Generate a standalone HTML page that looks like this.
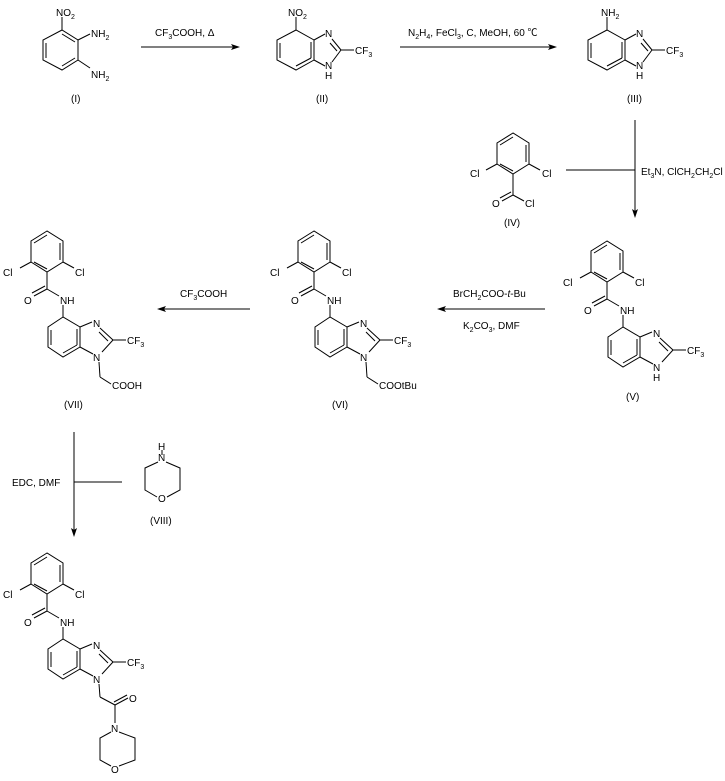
<!DOCTYPE html>
<html><head><meta charset="utf-8"><style>
html,body{margin:0;padding:0;background:#fff;}
svg{display:block;}
text{font-family:"Liberation Sans","Noto Sans CJK SC",sans-serif;font-size:10px;fill:#000;}
.s{font-size:7px;}
</style></head><body>
<svg width="725" height="781" viewBox="0 0 725 781" xmlns="http://www.w3.org/2000/svg">
<g stroke="#000" stroke-width="1" fill="none">
<!-- Compound I -->
<polygon points="62,30 43,40 43,60 62,70 78,60 78,40"/>
<line x1="46" y1="43" x2="46" y2="58"/><line x1="62" y1="34" x2="75" y2="42"/><line x1="62" y1="66" x2="75" y2="58"/>
<line x1="62" y1="30" x2="62" y2="17"/><line x1="78" y1="40" x2="90" y2="34"/><line x1="78" y1="60" x2="90" y2="68"/>
<!-- arrow 1 -->
<line x1="141" y1="47" x2="236" y2="47"/>
<!-- Compound II -->
<polygon points="296,30 277,40 277,60 296,70 314,60 314,40"/>
<line x1="280" y1="43" x2="280" y2="58"/><line x1="296" y1="66" x2="311" y2="58"/><line x1="311" y1="42" x2="311" y2="58"/>
<line x1="296" y1="30" x2="296" y2="17"/>
<line x1="314" y1="40" x2="325" y2="34"/><line x1="332" y1="39" x2="341" y2="50"/><line x1="330" y1="43" x2="337" y2="51"/>
<line x1="341" y1="50" x2="332" y2="62"/><line x1="314" y1="60" x2="325" y2="66"/><line x1="341" y1="50" x2="354" y2="50"/>
<!-- arrow 2 -->
<line x1="400" y1="47" x2="553" y2="47"/>
<!-- Compound III -->
<polygon points="607,30 588,40 588,60 607,70 625,60 625,40"/>
<line x1="591" y1="43" x2="591" y2="58"/><line x1="607" y1="66" x2="622" y2="58"/><line x1="622" y1="42" x2="622" y2="58"/>
<line x1="607" y1="30" x2="607" y2="17"/>
<line x1="625" y1="40" x2="636" y2="34"/><line x1="643" y1="39" x2="652" y2="50"/><line x1="641" y1="43" x2="648" y2="51"/>
<line x1="652" y1="50" x2="643" y2="62"/><line x1="625" y1="60" x2="636" y2="66"/><line x1="652" y1="50" x2="665" y2="50"/>
<!-- arrow III->V -->
<line x1="635" y1="120" x2="635" y2="214"/><line x1="566" y1="170" x2="635" y2="170"/>
<!-- Compound IV -->
<g transform="translate(466,-98)">
<polygon points="47,231 31,241 31,262 47,272 63,262 63,241"/>
<line x1="34" y1="243" x2="47" y2="235"/><line x1="60" y1="243" x2="60" y2="260"/><line x1="34" y1="262" x2="47" y2="269"/>
<line x1="31" y1="262" x2="20" y2="268"/><line x1="63" y1="262" x2="74" y2="268"/>
<line x1="47" y1="272" x2="47" y2="293"/><line x1="47" y1="293" x2="36" y2="299"/><line x1="45" y1="290" x2="34" y2="296"/>
<line x1="47" y1="293" x2="58" y2="299"/>
</g>
<!-- arrows row 2 -->
<line x1="441" y1="309" x2="545" y2="309"/>
<line x1="161" y1="309" x2="250" y2="309"/>
<!-- cores: VII, VI, V, final -->
<g id="c1">
<polygon points="47,231 31,241 31,262 47,272 63,262 63,241"/>
<line x1="34" y1="243" x2="47" y2="235"/><line x1="60" y1="243" x2="60" y2="260"/><line x1="34" y1="262" x2="47" y2="269"/>
<line x1="31" y1="262" x2="20" y2="268"/><line x1="63" y1="262" x2="74" y2="268"/>
<line x1="47" y1="272" x2="47" y2="289"/><line x1="47" y1="289" x2="34" y2="296"/><line x1="45" y1="286" x2="32" y2="293"/>
<line x1="47" y1="289" x2="59" y2="296"/><line x1="63" y1="305" x2="63" y2="317"/>
<polygon points="63,317 48,327 48,347 63,357 80,347 80,327"/>
<line x1="51" y1="330" x2="51" y2="345"/><line x1="63" y1="353" x2="77" y2="345"/><line x1="77" y1="329" x2="77" y2="345"/>
<line x1="80" y1="327" x2="92" y2="322"/><line x1="100" y1="328" x2="113" y2="340"/><line x1="99" y1="332" x2="108" y2="341"/>
<line x1="113" y1="340" x2="102" y2="352"/><line x1="80" y1="347" x2="93" y2="354"/><line x1="113" y1="340" x2="126" y2="340"/>
<line x1="99" y1="362" x2="100" y2="377"/><line x1="100" y1="377" x2="111" y2="384"/>
</g>
<g transform="translate(267,0)">
<polygon points="47,231 31,241 31,262 47,272 63,262 63,241"/>
<line x1="34" y1="243" x2="47" y2="235"/><line x1="60" y1="243" x2="60" y2="260"/><line x1="34" y1="262" x2="47" y2="269"/>
<line x1="31" y1="262" x2="20" y2="268"/><line x1="63" y1="262" x2="74" y2="268"/>
<line x1="47" y1="272" x2="47" y2="289"/><line x1="47" y1="289" x2="34" y2="296"/><line x1="45" y1="286" x2="32" y2="293"/>
<line x1="47" y1="289" x2="59" y2="296"/><line x1="63" y1="305" x2="63" y2="317"/>
<polygon points="63,317 48,327 48,347 63,357 80,347 80,327"/>
<line x1="51" y1="330" x2="51" y2="345"/><line x1="63" y1="353" x2="77" y2="345"/><line x1="77" y1="329" x2="77" y2="345"/>
<line x1="80" y1="327" x2="92" y2="322"/><line x1="100" y1="328" x2="113" y2="340"/><line x1="99" y1="332" x2="108" y2="341"/>
<line x1="113" y1="340" x2="102" y2="352"/><line x1="80" y1="347" x2="93" y2="354"/><line x1="113" y1="340" x2="126" y2="340"/>
<line x1="99" y1="362" x2="100" y2="377"/><line x1="100" y1="377" x2="111" y2="384"/>
</g>
<g transform="translate(560,10)">
<polygon points="47,231 31,241 31,262 47,272 63,262 63,241"/>
<line x1="34" y1="243" x2="47" y2="235"/><line x1="60" y1="243" x2="60" y2="260"/><line x1="34" y1="262" x2="47" y2="269"/>
<line x1="31" y1="262" x2="20" y2="268"/><line x1="63" y1="262" x2="74" y2="268"/>
<line x1="47" y1="272" x2="47" y2="289"/><line x1="47" y1="289" x2="34" y2="296"/><line x1="45" y1="286" x2="32" y2="293"/>
<line x1="47" y1="289" x2="59" y2="296"/><line x1="63" y1="305" x2="63" y2="317"/>
<polygon points="63,317 48,327 48,347 63,357 80,347 80,327"/>
<line x1="51" y1="330" x2="51" y2="345"/><line x1="63" y1="353" x2="77" y2="345"/><line x1="77" y1="329" x2="77" y2="345"/>
<line x1="80" y1="327" x2="92" y2="322"/><line x1="100" y1="328" x2="113" y2="340"/><line x1="99" y1="332" x2="108" y2="341"/>
<line x1="113" y1="340" x2="102" y2="352"/><line x1="80" y1="347" x2="93" y2="354"/><line x1="113" y1="340" x2="126" y2="340"/>
</g>
<g transform="translate(0,322)">
<polygon points="47,231 31,241 31,262 47,272 63,262 63,241"/>
<line x1="34" y1="243" x2="47" y2="235"/><line x1="60" y1="243" x2="60" y2="260"/><line x1="34" y1="262" x2="47" y2="269"/>
<line x1="31" y1="262" x2="20" y2="268"/><line x1="63" y1="262" x2="74" y2="268"/>
<line x1="47" y1="272" x2="47" y2="289"/><line x1="47" y1="289" x2="34" y2="296"/><line x1="45" y1="286" x2="32" y2="293"/>
<line x1="47" y1="289" x2="59" y2="296"/><line x1="63" y1="305" x2="63" y2="317"/>
<polygon points="63,317 48,327 48,347 63,357 80,347 80,327"/>
<line x1="51" y1="330" x2="51" y2="345"/><line x1="63" y1="353" x2="77" y2="345"/><line x1="77" y1="329" x2="77" y2="345"/>
<line x1="80" y1="327" x2="92" y2="322"/><line x1="100" y1="328" x2="113" y2="340"/><line x1="99" y1="332" x2="108" y2="341"/>
<line x1="113" y1="340" x2="102" y2="352"/><line x1="80" y1="347" x2="93" y2="354"/><line x1="113" y1="340" x2="126" y2="340"/>
</g>
<!-- final extras -->
<line x1="99" y1="684" x2="100" y2="697"/><line x1="100" y1="697" x2="115" y2="705"/>
<line x1="115" y1="705" x2="128" y2="698"/><line x1="114" y1="702" x2="127" y2="695"/>
<line x1="115" y1="705" x2="115" y2="723"/>
<polyline points="111,732 100,738 100,760 111,766"/><polyline points="119,732 135,738 135,760 119,766"/>
<!-- EDC arrow -->
<line x1="74" y1="432" x2="74" y2="532"/><line x1="74" y1="482" x2="122" y2="482"/>
<!-- VIII -->
<polyline points="158,462 145,468 145,490 157,497"/><polyline points="166,462 180,468 180,490 167,497"/>
<line x1="162" y1="450" x2="162" y2="455" />
</g>
<g fill="#000">
<polygon points="240,47 231,44 233,47 231,50"/>
<polygon points="557,47 548,44 550,47 548,50"/>
<polygon points="635,218 632,209 635,211 638,209"/>
<polygon points="437,309 446,306 444,309 446,312"/>
<polygon points="157,309 166,306 164,309 166,312"/>
<polygon points="74,537 71,528 74,530 77,528"/>
</g>
<!-- text -->
<text x="56" y="16">NO<tspan class="s" dy="3">2</tspan></text>
<text x="91" y="37">NH<tspan class="s" dy="3">2</tspan></text>
<text x="91" y="78">NH<tspan class="s" dy="3">2</tspan></text>
<text x="71" y="102">(I)</text>
<text x="155" y="36">CF<tspan class="s" dy="3">3</tspan><tspan dy="-3">COOH, Δ</tspan></text>
<text x="288" y="16">NO<tspan class="s" dy="3">2</tspan></text>
<text x="325" y="37">N</text><text x="325" y="69">N</text><text x="325" y="79">H</text>
<text x="355" y="54">CF<tspan class="s" dy="3">3</tspan></text>
<text x="316" y="102">(II)</text>
<text x="408" y="36">N<tspan class="s" dy="3">2</tspan><tspan dy="-3">H</tspan><tspan class="s" dy="3">4</tspan><tspan dy="-3">, FeCl</tspan><tspan class="s" dy="3">3</tspan><tspan dy="-3">, C, MeOH, 60 ℃</tspan></text>
<text x="601" y="16">NH<tspan class="s" dy="3">2</tspan></text>
<text x="636" y="37">N</text><text x="636" y="69">N</text><text x="636" y="79">H</text>
<text x="666" y="54">CF<tspan class="s" dy="3">3</tspan></text>
<text x="627" y="102">(III)</text>
<text x="641" y="175">Et<tspan class="s" dy="3">3</tspan><tspan dy="-3">N, ClCH</tspan><tspan class="s" dy="3">2</tspan><tspan dy="-3">CH</tspan><tspan class="s" dy="3">2</tspan><tspan dy="-3">Cl</tspan></text>
<!-- IV -->
<text x="470" y="177">Cl</text><text x="542" y="177">Cl</text>
<text x="492" y="207">O</text><text x="525" y="207">Cl</text>
<text x="504" y="226">(IV)</text>
<!-- VII -->
<text x="3" y="276">Cl</text><text x="75" y="276">Cl</text>
<text x="24" y="304">O</text><text x="60" y="304">NH</text>
<text x="93" y="327">N</text><text x="93" y="361">N</text>
<text x="127" y="344">CF<tspan class="s" dy="3">3</tspan></text>
<text x="112" y="389">COOH</text>
<text x="64" y="408">(VII)</text>
<text x="180" y="297">CF<tspan class="s" dy="3">3</tspan><tspan dy="-3">COOH</tspan></text>
<!-- VI -->
<text x="270" y="276">Cl</text><text x="342" y="276">Cl</text>
<text x="291" y="304">O</text><text x="327" y="304">NH</text>
<text x="360" y="327">N</text><text x="360" y="361">N</text>
<text x="394" y="344">CF<tspan class="s" dy="3">3</tspan></text>
<text x="379" y="389">COOtBu</text>
<text x="332" y="408">(VI)</text>
<text x="453" y="297">BrCH<tspan class="s" dy="3">2</tspan><tspan dy="-3">COO-</tspan><tspan font-style="italic">t</tspan>-Bu</text>
<text x="463" y="329">K<tspan class="s" dy="3">2</tspan><tspan dy="-3">CO</tspan><tspan class="s" dy="3">3</tspan><tspan dy="-3">, DMF</tspan></text>
<!-- V -->
<text x="563" y="286">Cl</text><text x="635" y="286">Cl</text>
<text x="584" y="314">O</text><text x="620" y="314">NH</text>
<text x="653" y="337">N</text><text x="653" y="371">N</text><text x="653" y="381">H</text>
<text x="687" y="354">CF<tspan class="s" dy="3">3</tspan></text>
<text x="626" y="400">(V)</text>
<!-- EDC -->
<text x="12" y="486">EDC, DMF</text>
<text x="158" y="461">N</text><text x="158" y="450">H</text>
<text x="158" y="502">O</text>
<text x="150" y="524">(VIII)</text>
<!-- final -->
<text x="3" y="598">Cl</text><text x="75" y="598">Cl</text>
<text x="24" y="626">O</text><text x="60" y="626">NH</text>
<text x="93" y="649">N</text><text x="93" y="683">N</text>
<text x="127" y="666">CF<tspan class="s" dy="3">3</tspan></text>
<text x="129" y="702">O</text>
<text x="111" y="732">N</text>
<text x="111" y="773">O</text>
</svg>
</body></html>
